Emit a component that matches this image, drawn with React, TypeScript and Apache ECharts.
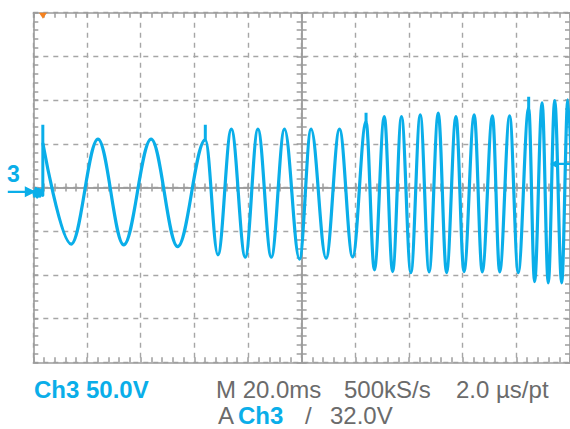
import { useEffect, useRef } from "react";
import * as echarts from "echarts";

// ---- scope settings ----
const TIME_MIN = -100; // ms (M 20.0ms/div, 10 divisions)
const TIME_MAX = 100;
const TIME_DIV = 20;
const DIV_MIN = -4; // vertical divisions
const DIV_MAX = 4;
const VOLT_MIN = -195; // Ch3 50.0V/div, ground marker 0.1 div below centre
const VOLT_MAX = 205;
const TRIGGER_T = -96.4; // ms
const TRIGGER_LEVEL = 32; // V

// ---- pre-trigger noise (ms, V) ----
const PRE_T = [-100, -99.5, -99.0, -98.5, -98.0, -97.5, -97.0, -96.45];
const PRE_V = [2, -5, 4, -6, 3, -5, 2, -4];

// ---- waveform extremes (ms, V) ----
const TRACE_T = [
  -96.4, -85.9, -75.9, -66.3, -56.1, -46.2, -35.9,
  -31.2, -26.2, -21.0, -16.3, -11.3, -6.4, -0.8, 3.5, 9.1, 14.1, 19.0, 24.0,
  27.1, 30.8, 33.9, 37.2, 40.7, 44.2, 47.5, 50.9, 54.0, 57.5, 60.5, 64.3, 67.3, 71.1, 73.8, 77.5, 80.7, 84.6,
  86.8, 89.6, 91.9, 94.3, 96.9, 99.2, 101.7,
];
const TRACE_V = [
  55, -59.8, 60.3, -60.6, 60.3, -62.6, 59.5,
  -72.1, 71.7, -74.7, 71.7, -74.7, 71.7, -77.0, 71.7, -75.9, 71.7, -74.4, 80,
  -89.2, 86.2, -91.2, 86.2, -92.3, 88.1, -91.5, 90.0, -92.3, 86.2, -91.2, 88.1, -91.5, 87.0, -91.5, 87.0, -92.3, 96,
  -102.6, 101.8, -104.1, 104.5, -104.1, 105.3, -104,
];

// ---- glitches at the frequency steps (ms, V) ----
const SPIKE_T = [-96.45, -35.9, 24.0, 84.6];
const SPIKE_BASE = [-4, 59.5, 80, 96];
const SPIKE_TOP = [76.7, 76.7, 90.4, 108.7];

// ---- text ----
const CH_NUM = "3";
const CH_LABEL = "Ch3 50.0V";
const TIMEBASE = "M 20.0ms";
const RATE = "500kS/s";
const RES = "2.0 µs/pt";
const TRIG_MODE = "A";
const TRIG_SRC = "Ch3";
const TRIG_SLOPE = "/";
const TRIG_LEVEL_TXT = "32.0V";

const BLUE = "#0aaee9";
const GRAY_TXT = "#6b6b6b";
const BORDER = "#9c9c9c";
const DASH = "#a6a6a6";
const ORANGE = "#f5821f";
const FONT = '"Liberation Sans", Arial, sans-serif';

const tickLine = { color: BORDER, width: 1.5 };

function borderX(position: string, split: boolean) {
  return {
    type: "value",
    position,
    min: TIME_MIN,
    max: TIME_MAX,
    interval: TIME_DIV,
    axisLine: { show: true, onZero: false, lineStyle: { color: BORDER, width: 1.6 } },
    axisTick: { show: true, inside: true, length: 5, lineStyle: tickLine },
    minorTick: { show: true, splitNumber: 5, length: 5, lineStyle: tickLine },
    axisLabel: { show: false },
    splitLine: { show: split, lineStyle: { color: DASH, width: 1.4, type: [5, 5] } },
  };
}
function centreX(inside: boolean) {
  return {
    type: "value",
    position: "bottom",
    min: TIME_MIN,
    max: TIME_MAX,
    interval: TIME_DIV,
    axisLine: { show: true, onZero: true, onZeroAxisIndex: 0, lineStyle: { color: BORDER, width: 1.5 } },
    axisTick: { show: true, inside, length: 4, lineStyle: tickLine },
    minorTick: { show: true, splitNumber: 5, length: 4, lineStyle: tickLine },
    axisLabel: { show: false },
    splitLine: { show: false },
  };
}
function borderY(position: string, split: boolean) {
  return {
    type: "value",
    position,
    min: DIV_MIN,
    max: DIV_MAX,
    interval: 1,
    axisLine: { show: true, onZero: false, lineStyle: { color: BORDER, width: 1.6 } },
    axisTick: { show: true, inside: true, length: 5, lineStyle: tickLine },
    minorTick: { show: true, splitNumber: 5, length: 5, lineStyle: tickLine },
    axisLabel: { show: false },
    splitLine: { show: split, lineStyle: { color: DASH, width: 1.4, type: [5, 5] } },
  };
}
function centreY(inside: boolean) {
  return {
    type: "value",
    position: "left",
    min: DIV_MIN,
    max: DIV_MAX,
    interval: 1,
    axisLine: { show: true, onZero: true, onZeroAxisIndex: 0, lineStyle: { color: BORDER, width: 1.5 } },
    axisTick: { show: true, inside, length: 5, lineStyle: tickLine },
    minorTick: { show: true, splitNumber: 5, length: 5, lineStyle: tickLine },
    axisLabel: { show: false },
    splitLine: { show: false },
  };
}

function txt(x: number, y: number, text: string, fill: string, bold: boolean, size = 24) {
  return {
    type: "text",
    z: 10,
    style: {
      x,
      y,
      text,
      fill,
      font: `${bold ? "bold " : ""}${size}px ${FONT}`,
      align: "left",
      textAlign: "left",
      verticalAlign: "middle",
      textVerticalAlign: "middle",
    },
  };
}

export default function App() {
  const ref = useRef<HTMLDivElement>(null);
  useEffect(() => {
    document.body.style.margin = "0";
    document.body.style.overflow = "hidden";
    const chart = echarts.init(ref.current!, null, { renderer: "svg" });

    const trace = TRACE_T.map((t, i) => [t, TRACE_V[i]]);
    const glitch: any[] = PRE_T.map((t, i) => [t, PRE_V[i]]);
    SPIKE_T.forEach((t, i) => {
      glitch.push([t, SPIKE_BASE[i]], [t, SPIKE_TOP[i]], [t, "-"]);
    });

    chart.setOption({
      animation: false,
      backgroundColor: "#ffffff",
      grid: { left: 33.3, top: 12.7, width: 537.8, height: 349.6, containLabel: false },
      xAxis: [borderX("bottom", true), borderX("top", false), centreX(true), centreX(false)],
      yAxis: [
        borderY("left", true),
        borderY("right", false),
        centreY(true),
        centreY(false),
        { type: "value", show: false, min: VOLT_MIN, max: VOLT_MAX, splitLine: { show: false } },
      ],
      series: [
        {
          type: "line",
          name: "Ch3",
          xAxisIndex: 0,
          yAxisIndex: 4,
          data: trace,
          smooth: 0.36,
          smoothMonotone: "x",
          showSymbol: false,
          symbol: "none",
          z: 5,
          lineStyle: { color: BLUE, width: 3.2, join: "round", cap: "round" },
          markPoint: {
            silent: true,
            label: { show: false },
            data: [
              {
                coord: [TIME_MIN, 0],
                symbol: "path://M0,4 L17,4 L17,0 L28,5 L17,10 L17,6 L0,6 Z",
                symbolSize: [28, 11],
                symbolOffset: [-11.5, 0],
                itemStyle: { color: BLUE },
              },
              {
                coord: [TIME_MAX, TRIGGER_LEVEL],
                symbol: "path://M0,5 L9,0 L9,3.8 L20,3.8 L20,6.2 L9,6.2 L9,10 Z",
                symbolSize: [20, 10],
                symbolOffset: [-10, 0],
                itemStyle: { color: BLUE },
              },
              {
                coord: [TRIGGER_T, VOLT_MAX],
                symbol: "triangle",
                symbolRotate: 180,
                symbolSize: [8, 6],
                symbolOffset: [0, 3],
                itemStyle: { color: ORANGE },
              },
            ],
          },
        },
        {
          type: "line",
          name: "glitch",
          xAxisIndex: 0,
          yAxisIndex: 4,
          data: glitch,
          smooth: false,
          connectNulls: false,
          showSymbol: false,
          symbol: "none",
          z: 5,
          lineStyle: { color: BLUE, width: 3, join: "round" },
        },
      ],
      graphic: [
        txt(7, 174, CH_NUM, BLUE, true, 23),
        txt(34, 389, CH_LABEL, BLUE, true),
        txt(216, 389, TIMEBASE, GRAY_TXT, false),
        txt(344, 389, RATE, GRAY_TXT, false),
        txt(456, 389, RES, GRAY_TXT, false),
        txt(218, 415, TRIG_MODE, GRAY_TXT, false),
        txt(238, 415, TRIG_SRC, BLUE, true),
        txt(305, 415, TRIG_SLOPE, GRAY_TXT, false),
        txt(330, 415, TRIG_LEVEL_TXT, GRAY_TXT, false),
      ],
    });
    return () => chart.dispose();
  }, []);
  return <div ref={ref} style={{ width: 570, height: 429 }} />;
}
